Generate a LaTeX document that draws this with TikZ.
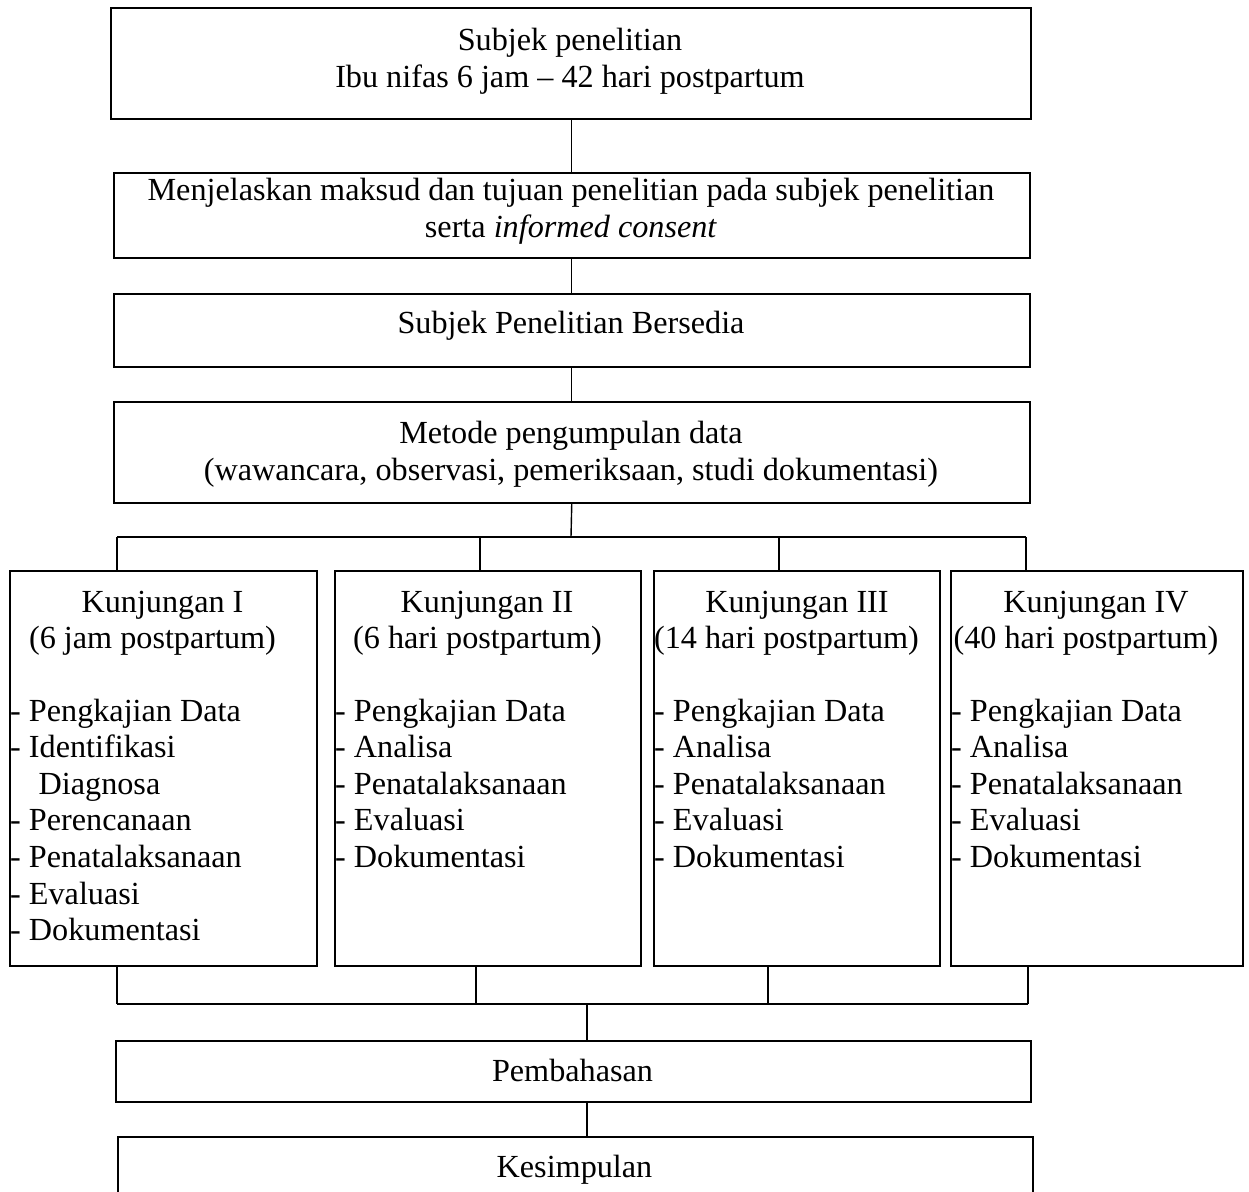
\documentclass[tikz,border=0pt]{standalone}
\usepackage{fontspec}
\setmainfont{Liberation Serif}
\newcommand{\tnr}{\fontsize{32.2}{36.8}\selectfont}
\begin{document}
\begin{tikzpicture}[x=1pt,y=-1pt,
  box/.style={draw, line width=1.5pt, inner sep=0pt, anchor=north west},
  conn/.style={line width=1.4pt},
  txt/.style={inner sep=0pt, anchor=base, font=\tnr},
  ltxt/.style={inner sep=0pt, anchor=base west, font=\tnr}]
\useasboundingbox (0,0) rectangle (1249,1191);
\clip (0,0) rectangle (1249,1191);
% main boxes
\node[box, minimum width=920pt, minimum height=111pt] (b1) at (110,7) {};
\node[box, minimum width=916pt, minimum height=85pt] (b2) at (113,172) {};
\node[box, minimum width=916pt, minimum height=73pt] (b3) at (113,293) {};
\node[box, minimum width=916pt, minimum height=101pt] (b4) at (113,401) {};
\node[box, minimum width=307pt, minimum height=395pt] (k1) at (9,570) {};
\node[box, minimum width=306pt, minimum height=395pt] (k2) at (334,570) {};
\node[box, minimum width=286pt, minimum height=395pt] (k3) at (653,570) {};
\node[box, minimum width=292pt, minimum height=395pt] (k4) at (950,570) {};
\node[box, minimum width=915pt, minimum height=61pt] (p) at (115,1040) {};
\node[box, minimum width=915pt, minimum height=80pt] (ks) at (117,1136) {};
% texts main
\node[txt] (b1t1) at (570,50) {Subjek penelitian};
\node[txt] (b1t2) at (570,87) {Ibu nifas 6 jam – 42 hari postpartum};
\node[txt] (b2t1) at (571,200) {Menjelaskan maksud dan tujuan penelitian pada subjek penelitian};
\node[txt] (b2t2) at (571,237) {serta \textit{informed consent}};
\node[txt] (b3t) at (571,333) {Subjek Penelitian Bersedia};
\node[txt] (b4t1) at (571,443) {Metode pengumpulan data};
\node[txt] (b4t2) at (571,480) {(wawancara, observasi, pemeriksaan, studi dokumentasi)};
\node[txt] (pt) at (572.5,1081) {Pembahasan};
\node[txt] (kst) at (574.5,1177) {Kesimpulan};
% K1
\node[txt] (k1a) at (162.5,612) {Kunjungan I};
\node[txt] (k1b) at (152.5,648.6) {(6 jam postpartum)};
\node[ltxt] (k1c) at (10,721) {- Pengkajian Data};
\node[ltxt] (k1d) at (10,757.6) {- Identifikasi};
\node[ltxt] (k1e) at (38.5,794.2) {Diagnosa};
\node[ltxt] (k1f) at (10,830.8) {- Perencanaan};
\node[ltxt] (k1g) at (10,867.4) {- Penatalaksanaan};
\node[ltxt] (k1h) at (10,904) {- Evaluasi};
\node[ltxt] (k1i) at (10,940.6) {- Dokumentasi};
% K2
\node[txt] (k2a) at (487,612) {Kunjungan II};
\node[txt] (k2b) at (477.5,648.6) {(6 hari postpartum)};
\node[ltxt] (k2c) at (335,721) {- Pengkajian Data};
\node[ltxt] (k2d) at (335,757.6) {- Analisa};
\node[ltxt] (k2e) at (335,794.2) {- Penatalaksanaan};
\node[ltxt] (k2f) at (335,830.8) {- Evaluasi};
\node[ltxt] (k2g) at (335,867.4) {- Dokumentasi};
% K3
\node[txt] (k3a) at (797,612) {Kunjungan III};
\node[txt] (k3b) at (786.5,648.6) {(14 hari postpartum)};
\node[ltxt] (k3c) at (654,721) {- Pengkajian Data};
\node[ltxt] (k3d) at (654,757.6) {- Analisa};
\node[ltxt] (k3e) at (654,794.2) {- Penatalaksanaan};
\node[ltxt] (k3f) at (654,830.8) {- Evaluasi};
\node[ltxt] (k3g) at (654,867.4) {- Dokumentasi};
% K4
\node[txt] (k4a) at (1096,612) {Kunjungan IV};
\node[txt] (k4b) at (1086,648.6) {(40 hari postpartum)};
\node[ltxt] (k4c) at (951,721) {- Pengkajian Data};
\node[ltxt] (k4d) at (951,757.6) {- Analisa};
\node[ltxt] (k4e) at (951,794.2) {- Penatalaksanaan};
\node[ltxt] (k4f) at (951,830.8) {- Evaluasi};
\node[ltxt] (k4g) at (951,867.4) {- Dokumentasi};
% connectors
\draw[conn] (b1.south -| b2.north) -- (b2.north);
\draw[conn] (b2.south) -- (b3.north);
\draw[conn] (b3.south) -- (b4.north);
\coordinate (busT) at (571,537);
\coordinate (t1) at (117,537);
\coordinate (t2) at (480,537);
\coordinate (t3) at (779,537);
\coordinate (t4) at (1026,537);
\draw[conn] (b4.south) -- (busT);
\draw[conn] (t1) -- (t4);
\draw[conn] (t1) -- (t1 |- k1.north);
\draw[conn] (t2) -- (t2 |- k2.north);
\draw[conn] (t3) -- (t3 |- k3.north);
\draw[conn] (t4) -- (t4 |- k4.north);
\coordinate (u1) at (117,1004);
\coordinate (u2) at (476,1004);
\coordinate (u3) at (768,1004);
\coordinate (u4) at (1028,1004);
\coordinate (busB) at (587,1004);
\draw[conn] (u1 |- k1.south) -- (u1);
\draw[conn] (u2 |- k2.south) -- (u2);
\draw[conn] (u3 |- k3.south) -- (u3);
\draw[conn] (u4 |- k4.south) -- (u4);
\draw[conn] (u1) -- (u4);
\draw[conn] (busB) -- (busB |- p.north);
\draw[conn] (p.south -| busB) -- (busB |- ks.north);
\end{tikzpicture}
\end{document}
